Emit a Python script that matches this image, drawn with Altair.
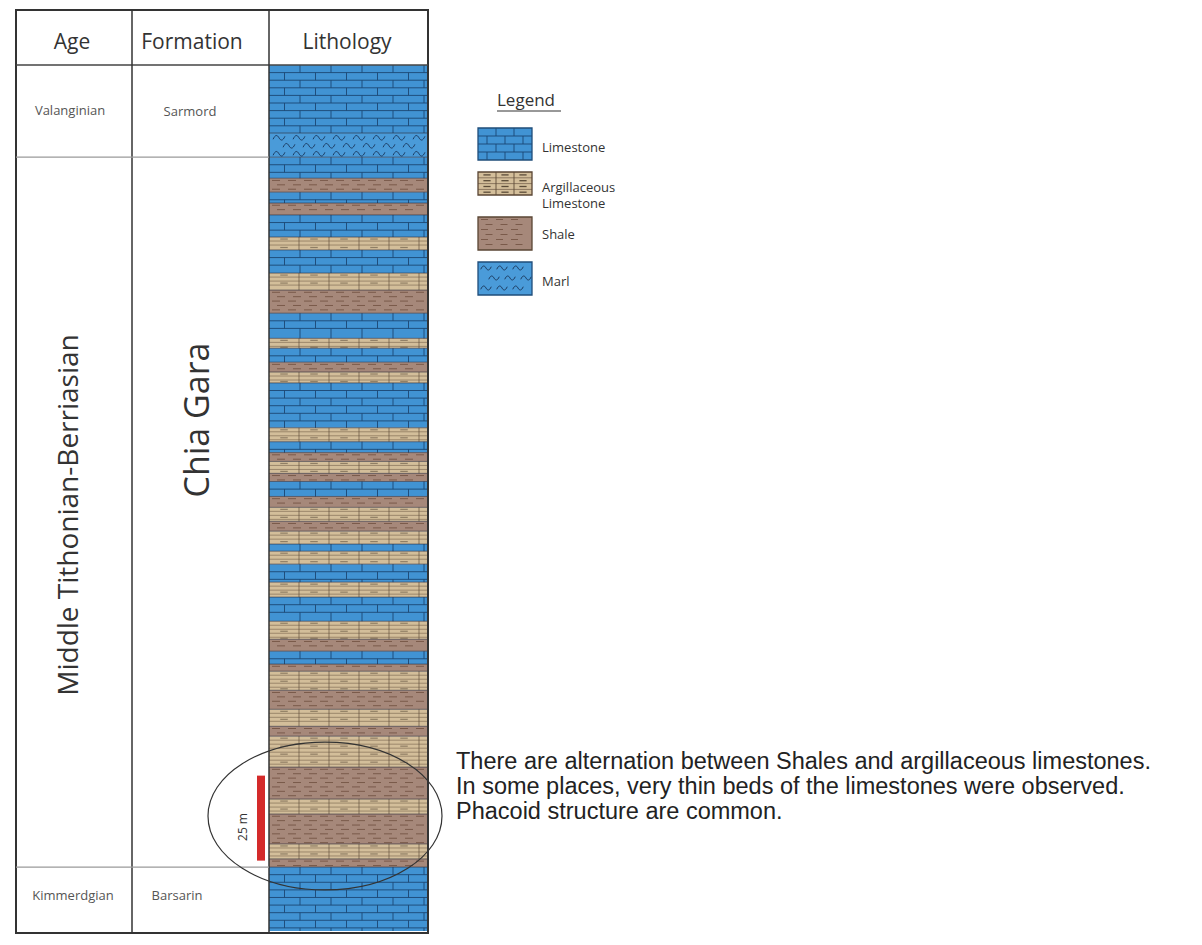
import altair as alt
import pandas as pd

# ---------------- chart data ----------------
bed_code = ["L", "M", "L", "S", "L", "S", "L", "A", "L", "A",
            "S", "L", "A", "L", "S", "A", "L", "A", "L", "S",
            "A", "S", "L", "S", "A", "S", "A", "L", "A", "L",
            "A", "L", "A", "S", "L", "S", "A", "S", "A", "S",
            "A", "S", "A", "S", "A", "S", "L"]
bed_thickness_m = [20.0, 7.1, 6.2, 4.1, 3.2, 3.5, 6.5, 3.8, 6.8, 5.0,
                   6.8, 7.4, 2.9, 4.1, 2.9, 3.2, 13.2, 4.1, 3.2, 2.6,
                   3.5, 2.4, 4.4, 3.2, 4.1, 2.9, 3.8, 2.1, 3.8, 5.3,
                   4.4, 7.1, 5.3, 3.5, 3.8, 2.1, 5.6, 5.6, 5.0, 2.9,
                   9.1, 9.4, 4.4, 8.8, 4.4, 2.4, 18.8]
code_names = {"L": "Limestone", "A": "Argillaceous Limestone", "S": "Shale", "M": "Marl"}

header_labels = ["Age", "Formation", "Lithology"]
age_names = ["Valanginian", "Middle Tithonian-Berriasian", "Kimmerdgian"]
formation_names = ["Sarmord", "Chia Gara", "Barsarin"]
unit_top_m = [0.0, 27.1, 235.9]
unit_base_m = [27.1, 235.9, 254.7]

legend_title = "Legend"
legend_names = ["Limestone", "Argillaceous Limestone", "Shale", "Marl"]
legend_labels = ["Limestone", "Argillaceous\nLimestone", "Shale", "Marl"]

scale_bar_m = [209.0, 234.0]
scale_bar_label = "25 m"

note_lines = [
    "There are alternation between Shales and argillaceous limestones.",
    "In some places, very thin beds of the limestones were observed.",
    "Phacoid structure are common.",
]

# ---------------- styling / layout ----------------
FILL = {"Limestone": "#4193d3", "Argillaceous Limestone": "#d3be9a",
        "Shale": "#a6887a", "Marl": "#4a9bd9"}
TOTAL = sum(bed_thickness_m)
COL_W = 158
H = round(TOTAL * 3.4)
PX_PER_M = H / TOTAL
VX0, VY0 = 269, 65  # page-image position of the plot origin


def px(x):
    return x - VX0


def py(y):
    return y - VY0


def xu(p):
    return p / COL_W


def yu(p):
    return p / PX_PER_M


rects, lines, waves, boxes = [], [], [], []


def add_line(x, x2, y, y2, c, w=1.0, o=1.0):
    lines.append(dict(x=x, x2=x2, y=y, y2=y2, c=c, w=w, o=o))


def draw_bed(lith, x0, x1, t, b, legend=False):
    rects.append(dict(x=x0, x2=x1, y=t, y2=b, c=FILL[lith]))
    if lith == "Limestone":
        row = yu(8.0 if legend else 7.6)
        bw = xu(18 if legend else 31)
        ys = [t]
        y = t + row
        while y < b - yu(2.5):
            ys.append(y)
            y += row
        ys.append(b)
        for y in ys[1:-1]:
            add_line(x0, x1, y, y, "#1c4773", 1.0, 0.9)
        for i in range(len(ys) - 1):
            xv = x0 + (bw if i % 2 == 0 else bw / 2)
            while xv < x1 - xu(2):
                add_line(xv, xv, ys[i], ys[i + 1], "#1c4773", 1.0, 0.9)
                xv += bw
    elif lith == "Argillaceous Limestone":
        row = yu(5.8 if legend else 4.0)
        cw = xu(18 if legend else 30)
        ys = [t]
        y = t + row
        while y < b - yu(1.5):
            ys.append(y)
            y += row
        ys.append(b)
        for y in ys[1:-1]:
            add_line(x0, x1, y, y, "#7a6650", 0.9, 0.9 if legend else 0.7)
        xv = x0 + cw
        while xv < x1 - xu(2):
            add_line(xv, xv, t, b, "#5e4c38", 1.0, 0.9 if legend else 0.65)
            xv += cw
        for i in range(len(ys) - 1):
            if not legend and i % 2:
                continue
            ym = (ys[i] + ys[i + 1]) / 2
            xc = x0 + cw / 2
            while xc < x1:
                dl = cw * (0.4 if legend else 0.25)
                add_line(xc - dl / 2, xc + dl / 2, ym, ym, "#4e3f2f", 1.3 if legend else 1.2,
                         0.9 if legend else 0.5)
                xc += cw
    elif lith == "Shale":
        row = yu(5.0 if legend else 4.4)
        dl = xu(7 if legend else 8)
        gap = xu(15 if legend else 16)
        y = t + row / 2
        i = 0
        while y < b - yu(1):
            xs = x0 + (gap / 2 if i % 2 else xu(3))
            while xs + dl < x1:
                add_line(xs, xs + dl, y, y, "#6b4b3b", 1.0, 0.75)
                xs += gap
            y += row
            i += 1
    elif lith == "Marl":
        row = yu(10 if legend else 8)
        step = xu(16 if legend else 20)
        y = t + row * 0.6
        i = 0
        while y < b - yu(2):
            xs = x0 + (step * 0.5 if i % 2 == 0 else step)
            while xs < x1 - xu(5):
                waves.append(dict(x=xs, y=y, s=110 if legend else 140))
                xs += step
            y += row
            i += 1


# main column
depth = 0.0
bounds = []
for code, th in zip(bed_code, bed_thickness_m):
    draw_bed(code_names[code], 0.0, 1.0, depth, depth + th)
    depth += th
    bounds.append(depth)
for bd in bounds[:-1]:
    add_line(0.0, 1.0, bd, bd, "#2b2b3b", 1.0, 0.6)

# legend swatches (page-image pixel boxes)
legend_boxes = [(128, 160), (172, 195), (217, 250), (262, 295)]
lx0, lx1 = xu(px(478)), xu(px(532))
for name, (top, bot) in zip(legend_names, legend_boxes):
    t, b = yu(py(top)), yu(py(bot))
    draw_bed(name, lx0, lx1, t, b, legend=True)
    boxes.append(dict(x=lx0, x2=lx1, y=t, y2=b,
                      c="#1f4d7a" if name in ("Limestone", "Marl") else "#5a4634"))

X = alt.Scale(domain=[0, 1], nice=False, zero=False)
Y = alt.Scale(domain=[0, TOTAL], nice=False, zero=False, reverse=True)


def xf(f="x"):
    return alt.X(f + ":Q", scale=X, axis=None)


def yf(f="y"):
    return alt.Y(f + ":Q", scale=Y, axis=None)


layers = []
layers.append(alt.Chart(pd.DataFrame(rects)).mark_rect(clip=False).encode(
    x=xf(), x2="x2:Q", y=yf(), y2="y2:Q", fill=alt.Fill("c:N", scale=None)))
layers.append(alt.Chart(pd.DataFrame(lines)).mark_rule(clip=False).encode(
    x=xf(), x2="x2:Q", y=yf(), y2="y2:Q",
    color=alt.Color("c:N", scale=None),
    strokeWidth=alt.StrokeWidth("w:Q", scale=None),
    opacity=alt.Opacity("o:Q", scale=None)))
WAVE = "M -1 0.25 C -0.65 -0.55 -0.3 -0.55 0 0 C 0.3 0.55 0.65 0.55 1 -0.25"
layers.append(alt.Chart(pd.DataFrame(waves)).mark_point(
    shape=WAVE, filled=False, color="#1d3d63", strokeWidth=1.0, opacity=1, clip=False).encode(
    x=xf(), y=yf(), size=alt.Size("s:Q", scale=None)))
layers.append(alt.Chart(pd.DataFrame(boxes)).mark_rect(
    clip=False, fillOpacity=0, strokeWidth=1.3).encode(
    x=xf(), x2="x2:Q", y=yf(), y2="y2:Q", stroke=alt.Stroke("c:N", scale=None)))

one = pd.DataFrame({"k": [0]})

# table frame
layers.append(alt.Chart(one).mark_rect(fillOpacity=0, stroke="#333", strokeWidth=2).encode(
    x=alt.value(px(16)), x2=alt.value(px(428)), y=alt.value(py(10)), y2=alt.value(py(933))))
layers.append(alt.Chart(one).mark_rule(color="#444", strokeWidth=1.5).encode(
    x=alt.value(px(16)), x2=alt.value(px(428)), y=alt.value(py(65))))
for xc in (132, 269):
    layers.append(alt.Chart(one).mark_rule(color="#333", strokeWidth=1.5).encode(
        x=alt.value(px(xc)), y=alt.value(py(10)), y2=alt.value(py(933))))
unit_df = pd.DataFrame({"age": age_names, "fm": formation_names,
                        "top": unit_top_m, "base": unit_base_m})
layers.append(alt.Chart(unit_df.iloc[1:]).mark_rule(color="#9a9a9a", strokeWidth=1.2).encode(
    y=yf("top"), x=alt.value(px(16)), x2=alt.value(px(269))))

# header labels
for lab, xc in zip(header_labels, (72, 192, 347)):
    layers.append(alt.Chart(pd.DataFrame({"t": [lab]})).mark_text(
        font="Open Sans", fontSize=21, color="#333").encode(
        text="t:N", x=alt.value(px(xc)), y=alt.value(py(43))))

# unit labels
for i, xc, yc in [(0, 70, 111), (2, 73, 896)]:
    layers.append(alt.Chart(unit_df.iloc[[i]]).mark_text(
        font="Open Sans", fontSize=13, color="#555").encode(
        text="age:N", x=alt.value(px(xc)), y=alt.value(py(yc))))
for i, xc, yc in [(0, 190, 112), (2, 177, 896)]:
    layers.append(alt.Chart(unit_df.iloc[[i]]).mark_text(
        font="Open Sans", fontSize=13, color="#555").encode(
        text="fm:N", x=alt.value(px(xc)), y=alt.value(py(yc))))
layers.append(alt.Chart(unit_df.iloc[[1]]).mark_text(
    font="Open Sans", fontSize=28, color="#333", angle=270).encode(
    text="age:N", x=alt.value(px(70)), y=alt.value(py(515))))
layers.append(alt.Chart(unit_df.iloc[[1]]).mark_text(
    font="Open Sans", fontSize=34, color="#333", angle=270).encode(
    text="fm:N", x=alt.value(px(199)), y=alt.value(py(420))))

# scale bar
layers.append(alt.Chart(pd.DataFrame({"a": [scale_bar_m[0]], "b": [scale_bar_m[1]]})).mark_rect(
    color="#d42a2a", clip=False).encode(
    y=yf("a"), y2="b:Q", x=alt.value(px(257)), x2=alt.value(px(265))))
layers.append(alt.Chart(pd.DataFrame({"t": [scale_bar_label]})).mark_text(
    font="Open Sans", fontSize=12, color="#333", angle=270).encode(
    text="t:N", x=alt.value(px(243)), y=alt.value(py(827))))

# ellipse
ry = 0.632
kr = 0.5523 * ry
ELL = (f"M 1 0 C 1 {kr:.3f} 0.5523 {ry} 0 {ry} C -0.5523 {ry} -1 {kr:.3f} -1 0 "
       f"C -1 {-kr:.3f} -0.5523 {-ry} 0 {-ry} C 0.5523 {-ry} 1 {-kr:.3f} 1 0 Z")
layers.append(alt.Chart(one).mark_point(
    shape=ELL, size=(2 * 117) ** 2, filled=False, color="#333", strokeWidth=1.2, opacity=1).encode(
    x=alt.value(px(325)), y=alt.value(py(816))))

# note text
for ln, yc in zip(note_lines, (762, 787, 812)):
    layers.append(alt.Chart(pd.DataFrame({"t": [ln]})).mark_text(
        font="Liberation Sans", fontSize=23.5, color="#222", align="left").encode(
        text="t:N", x=alt.value(px(456)), y=alt.value(py(yc))))

# legend texts
layers.append(alt.Chart(pd.DataFrame({"t": [legend_title]})).mark_text(
    font="Open Sans", fontSize=17, color="#333", align="left").encode(
    text="t:N", x=alt.value(px(497)), y=alt.value(py(101))))
layers.append(alt.Chart(one).mark_rule(color="#333", strokeWidth=1).encode(
    x=alt.value(px(497)), x2=alt.value(px(561)), y=alt.value(py(111))))
for lab, yc in zip(legend_labels, (148, 188, 235, 282)):
    layers.append(alt.Chart(pd.DataFrame({"t": [lab]})).mark_text(
        font="Open Sans", fontSize=13, color="#333", align="left", lineBreak="\n",
        lineHeight=16).encode(
        text="t:N", x=alt.value(px(542)), y=alt.value(py(yc))))

chart = alt.layer(*layers).properties(
    width=COL_W, height=H,
    autosize=alt.AutoSizeParams(type="none"),
    padding={"left": VX0 - 8, "top": VY0 - 8, "right": 1186 - (VX0 - 8) - COL_W, "bottom": 12},
    background="white",
).configure_view(stroke=None)

chart.save("out.html", embed_options={"renderer": "svg", "actions": False})
